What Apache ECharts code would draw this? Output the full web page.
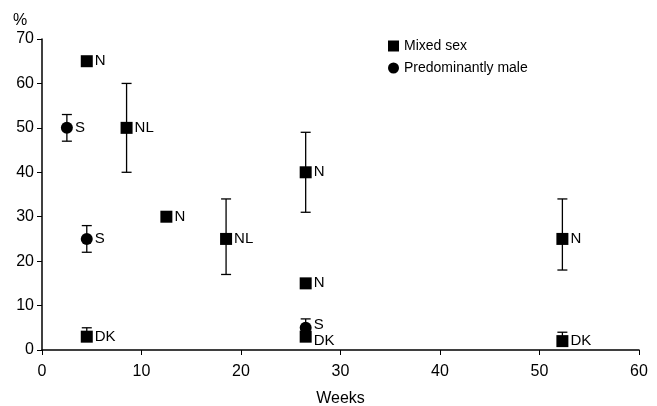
<!DOCTYPE html>
<html>
<head>
    <meta charset="UTF-8">
    <title>Weeks</title>
    <script src="https://cdn.jsdelivr.net/npm/echarts@6/dist/echarts.min.js"></script>
</head>
<body style="margin:0;background:#fff;">
<div id="chart" style="width:657px;height:406px;"></div>
<script type="text/javascript">

    // [weeks, percent, label]
    var mixedSex = [
        [4.5, 65, 'N'],
        [8.5, 50, 'NL'],
        [12.5, 30, 'N'],
        [18.5, 25, 'NL'],
        [26.5, 40, 'N'],
        [26.5, 15, 'N'],
        [26.5, 3, 'DK'],
        [52.3, 25, 'N'],
        [52.3, 2, 'DK'],
        [4.5, 3, 'DK']
    ];
    var predominantlyMale = [
        [2.5, 50, 'S'],
        [4.5, 25, 'S'],
        [26.5, 5, 'S']
    ];
    // [weeks, low, high]
    var errorBars = [
        [8.5, 40, 60],
        [18.5, 17, 34],
        [26.5, 31, 49],
        [52.3, 18, 34],
        [52.3, 1, 4],
        [4.5, 2, 5],
        [2.5, 47, 53],
        [4.5, 22, 28],
        [26.5, 4, 7]
    ];
    var xTicks = [0, 10, 20, 30, 40, 50, 60];
    var yTicks = [0, 10, 20, 30, 40, 50, 60, 70];

    var font = 'Liberation Sans, Arial, sans-serif';
    var myChart = echarts.init(document.getElementById('chart'));

    // two points at the same week and close values: push their labels apart
    function crowded(p, others) {
        return others.some(function (o) {
            return o[0] === p[0] && Math.abs(o[1] - p[1]) < 5;
        });
    }
    function spread(own, others, dy) {
        return function (params) {
            return crowded(own[params.dataIndex], others) ? {dy: dy} : {};
        };
    }

    var pointLabel = {
        show: true,
        position: 'right',
        distance: 2,
        fontFamily: font,
        fontSize: 15,
        color: '#000',
        formatter: function (p) { return p.data[2]; }
    };

    myChart.setOption({
        animation: false,
        title: {
            text: '%',
            left: 8,
            top: 8,
            textStyle: {fontFamily: font, fontSize: 16, fontWeight: 'normal', color: '#000'}
        },
        legend: {
            orient: 'vertical',
            left: 383,
            top: 34,
            itemWidth: 11,
            itemHeight: 11,
            itemGap: 8,
            textStyle: {fontFamily: font, fontSize: 14, color: '#000'},
            data: [
                {name: 'Mixed sex', icon: 'rect'},
                {name: 'Predominantly male', icon: 'circle'}
            ]
        },
        grid: {left: 42, right: 18, top: 39, bottom: 56, outerBoundsMode: 'none', containLabel: false},
        xAxis: {
            type: 'value',
            min: xTicks[0],
            max: xTicks[xTicks.length - 1],
            interval: 10,
            name: 'Weeks',
            nameLocation: 'middle',
            nameGap: 41,
            nameTextStyle: {fontFamily: font, fontSize: 16, color: '#000'},
            axisLine: {lineStyle: {color: '#000', width: 1.5}},
            axisTick: {length: 5, lineStyle: {color: '#000'}},
            axisLabel: {fontFamily: font, fontSize: 16, color: '#000', margin: 14},
            splitLine: {show: false}
        },
        yAxis: {
            type: 'value',
            min: yTicks[0],
            max: yTicks[yTicks.length - 1],
            interval: 10,
            axisLine: {show: true, lineStyle: {color: '#000', width: 1.5}},
            axisTick: {show: true, length: 5, lineStyle: {color: '#000'}},
            axisLabel: {fontFamily: font, fontSize: 16, color: '#000', margin: 8},
            splitLine: {show: false}
        },
        series: [
            {
                name: 'errors',
                type: 'custom',
                z: 1,
                renderItem: function (params, api) {
                    var x = api.value(0);
                    var lo = api.coord([x, api.value(1)]);
                    var hi = api.coord([x, api.value(2)]);
                    var w = 5;
                    var style = {stroke: '#000', lineWidth: 1.3};
                    return {
                        type: 'group',
                        children: [
                            {type: 'line', shape: {x1: lo[0], y1: lo[1], x2: hi[0], y2: hi[1]}, style: style},
                            {type: 'line', shape: {x1: lo[0] - w, y1: lo[1], x2: lo[0] + w, y2: lo[1]}, style: style},
                            {type: 'line', shape: {x1: hi[0] - w, y1: hi[1], x2: hi[0] + w, y2: hi[1]}, style: style}
                        ]
                    };
                },
                encode: {x: 0, y: [1, 2]},
                data: errorBars
            },
            {
                name: 'Mixed sex',
                type: 'scatter',
                symbol: 'rect',
                symbolSize: 12,
                z: 3,
                itemStyle: {color: '#000', opacity: 1},
                label: pointLabel,
                labelLayout: spread(mixedSex, predominantlyMale, 4),
                data: mixedSex
            },
            {
                name: 'Predominantly male',
                type: 'scatter',
                symbol: 'circle',
                symbolSize: 12,
                z: 4,
                itemStyle: {color: '#000', opacity: 1},
                label: pointLabel,
                labelLayout: spread(predominantlyMale, mixedSex, -3),
                data: predominantlyMale
            }
        ]
    });
</script>
</body>
</html>
